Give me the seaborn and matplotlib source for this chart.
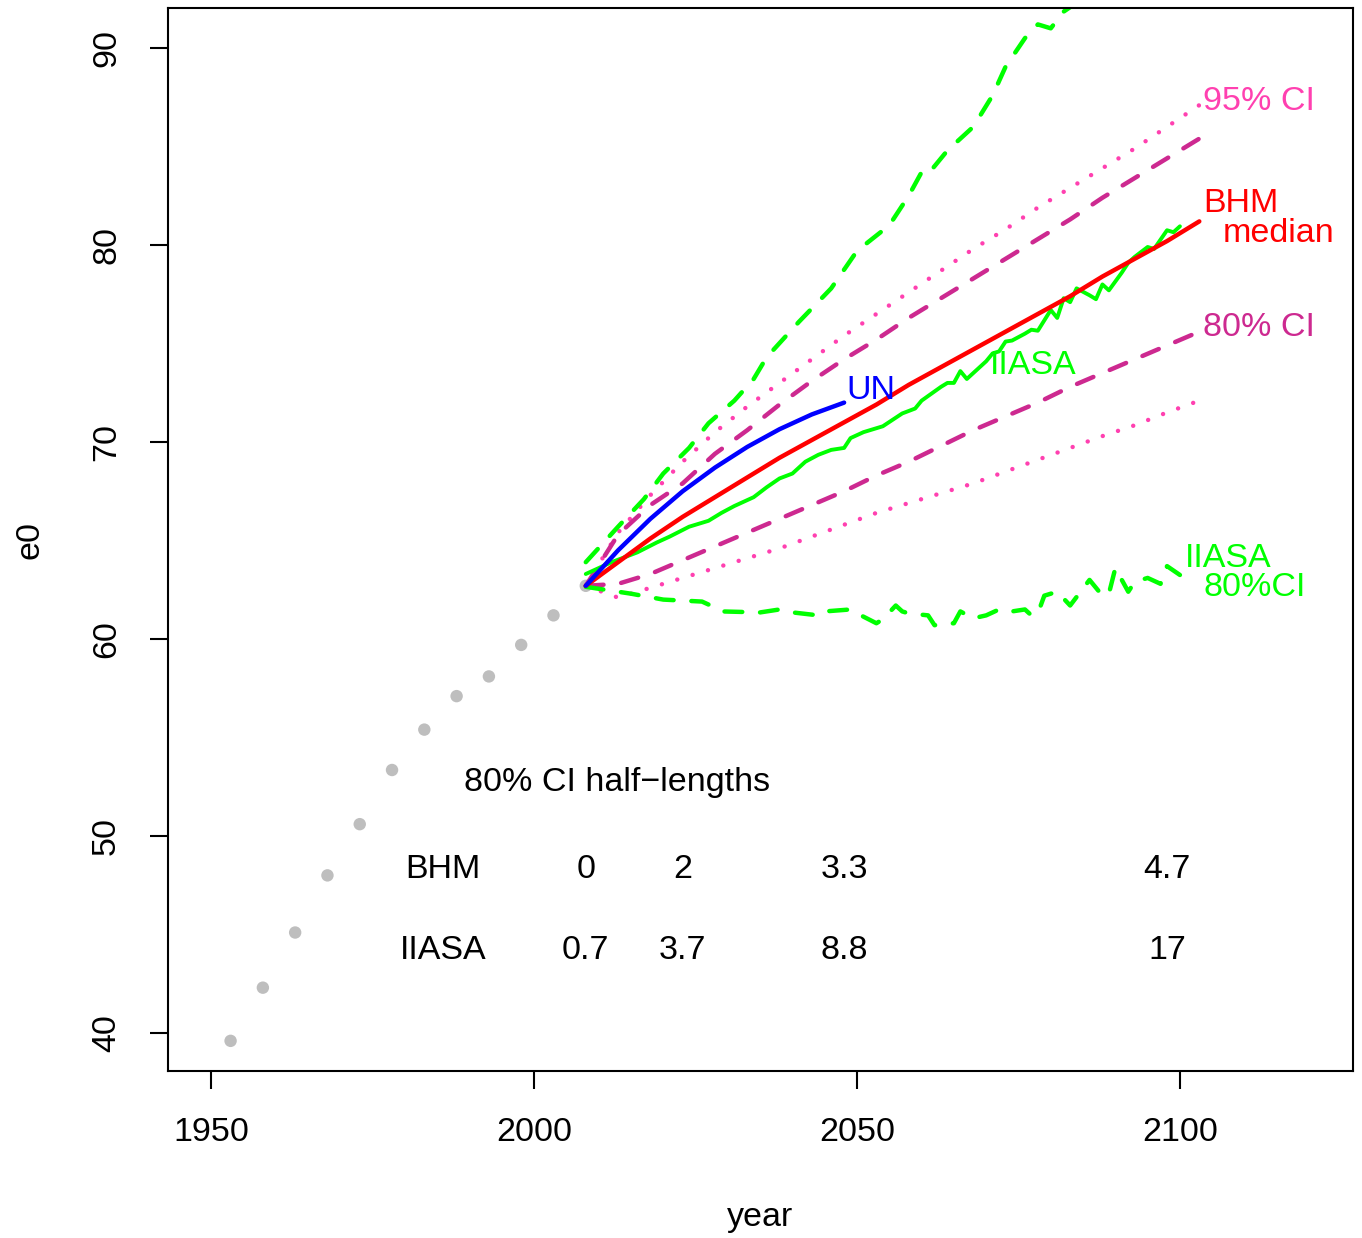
import matplotlib
matplotlib.use("Agg")
import matplotlib.pyplot as plt
import seaborn as sns

# observed e0 (grey dots)
obs_years = [1953, 1958, 1963, 1968, 1973, 1978, 1983, 1988, 1993, 1998, 2003, 2008]
obs_e0 = [39.6, 42.3, 45.1, 48.0, 50.6, 53.35, 55.4, 57.1, 58.1, 59.7, 61.2, 62.7]

# BHM projections (5-year steps)
bhm_years = [2008, 2013, 2018, 2023, 2028, 2033, 2038, 2043, 2048, 2053,
             2058, 2063, 2068, 2073, 2078, 2083, 2088, 2093, 2098, 2103]
bhm_median = [62.7, 63.9, 65.1, 66.2, 67.2, 68.2, 69.2, 70.1, 71.0, 71.9,
              72.9, 73.8, 74.7, 75.6, 76.5, 77.4, 78.4, 79.3, 80.2, 81.2]
bhm_up80 = [62.7, 65.3, 66.8, 67.9, 69.4, 70.6, 71.9, 73.1, 74.2, 75.2,
            76.3, 77.3, 78.3, 79.3, 80.3, 81.3, 82.4, 83.4, 84.4, 85.4]
bhm_lo80 = [62.7, 62.8, 63.3, 64.0, 64.7, 65.4, 66.1, 66.8, 67.5, 68.3,
            69.0, 69.8, 70.6, 71.3, 72.0, 72.8, 73.5, 74.2, 74.9, 75.6]
bhm_up95 = [62.7, 65.4, 67.3, 69.0, 70.5, 71.8, 73.0, 74.2, 75.4, 76.5,
            77.6, 78.7, 79.8, 80.8, 81.9, 82.9, 83.9, 84.9, 86.0, 87.1]
bhm_lo95 = [62.7, 62.1, 62.6, 63.1, 63.6, 64.1, 64.6, 65.2, 65.8, 66.4,
            66.9, 67.4, 67.9, 68.5, 69.1, 69.7, 70.3, 70.85, 71.5, 72.1]

# UN projection
un_years = [2008, 2013, 2018, 2023, 2028, 2033, 2038, 2043, 2048]
un_e0 = [62.7, 64.5, 66.1, 67.5, 68.7, 69.75, 70.65, 71.4, 72.0]

# IIASA median
iiasa_years = [2008, 2012, 2016, 2019, 2021, 2024, 2027, 2029, 2031, 2034,
               2036, 2038, 2040, 2042, 2044, 2046, 2048, 2049, 2051, 2054,
               2057, 2059, 2060, 2063, 2064, 2065, 2066, 2067, 2068, 2070,
               2071, 2072, 2073, 2074, 2076, 2077, 2078, 2080, 2081, 2082,
               2083, 2084, 2086, 2087, 2088, 2089, 2091, 2092, 2093, 2095,
               2096, 2098, 2099, 2100]
iiasa_med = [63.3, 63.9, 64.4, 64.9, 65.2, 65.7, 66.0, 66.4, 66.75, 67.2,
             67.7, 68.15, 68.4, 69.0, 69.35, 69.6, 69.7, 70.2, 70.5, 70.8,
             71.45, 71.7, 72.1, 72.8, 73.0, 73.0, 73.6, 73.2, 73.5, 74.1,
             74.5, 74.6, 75.1, 75.15, 75.5, 75.7, 75.65, 76.7, 76.3, 77.3,
             77.1, 77.8, 77.45, 77.25, 78.0, 77.7, 78.6, 79.1, 79.4, 79.9,
             79.8, 80.75, 80.65, 80.95]

# IIASA 80% interval
iiasa_up_years = [2008, 2013, 2017, 2020, 2024, 2027, 2031, 2034, 2036, 2041,
                  2046, 2050, 2055, 2058, 2060, 2061, 2063, 2064, 2068, 2071,
                  2073, 2076, 2078, 2080, 2082, 2084]
iiasa_up80 = [63.9, 65.7, 67.1, 68.4, 69.7, 70.95, 72.1, 73.2, 74.3, 76.1,
              77.8, 79.7, 81.0, 82.5, 83.7, 83.6, 84.4, 84.8, 86.0, 87.6,
              89.05, 90.5, 91.2, 91.0, 91.85, 92.3]
iiasa_lo_years = [2008, 2011, 2015, 2020, 2026, 2028, 2029, 2035, 2038, 2040,
                  2044, 2045, 2049, 2050, 2053, 2054, 2056, 2057, 2058, 2061,
                  2062, 2065, 2066, 2068, 2070, 2072, 2074, 2076, 2077, 2078,
                  2079, 2081, 2082, 2083, 2086, 2088, 2089, 2090, 2092, 2093,
                  2095, 2097, 2098, 2100]
iiasa_lo80 = [62.65, 62.5, 62.3, 62.0, 61.9, 61.6, 61.4, 61.35, 61.5, 61.35,
              61.2, 61.4, 61.5, 61.3, 60.8, 61.0, 61.7, 61.4, 61.3, 61.2,
              60.7, 60.8, 61.4, 61.05, 61.2, 61.5, 61.4, 61.5, 61.2, 61.3,
              62.2, 62.4, 62.05, 61.7, 63.0, 62.2, 62.3, 63.6, 62.4, 62.9,
              63.1, 62.8, 63.7, 63.25]

# table of 80% CI half-lengths
table_years = [2008, 2023, 2048, 2098]
bhm_half = ["0", "2", "3.3", "4.7"]
iiasa_half = ["0.7", "3.7", "8.8", "17"]

GREEN = "#00FF00"
DASHCOL = "#CD2990"
DOTCOL = "#FF40B0"

sns.set_style("white")
plt.rcParams["font.family"] = ["Liberation Sans", "DejaVu Sans"]
plt.rcParams["text.color"] = "black"
plt.rcParams["axes.labelcolor"] = "black"
plt.rcParams["xtick.color"] = "black"
plt.rcParams["ytick.color"] = "black"

fig = plt.figure(figsize=(13.62, 12.38), dpi=100)
ax = fig.add_axes([0.1233, 0.1349, 0.8701, 0.8586])

sns.scatterplot(x=obs_years, y=obs_e0, color="#BEBEBE", s=80, edgecolor="none", ax=ax)

def draw(x, y, color, style, lw=3.2):
    kw = dict(x=x, y=y, color=color, lw=lw, ax=ax, errorbar=None, estimator=None)
    line = sns.lineplot(**kw).lines[-1]
    if style == "dash":
        line.set_dashes((4.0, 4.0))
        line.set_dash_capstyle("round")
    elif style == "dot":
        line.set_dashes((0.01, 3.6))
        line.set_dash_capstyle("round")

draw(bhm_years, bhm_up95, DOTCOL, "dot")
draw(bhm_years, bhm_lo95, DOTCOL, "dot")
draw(bhm_years, bhm_up80, DASHCOL, "dash")
draw(bhm_years, bhm_lo80, DASHCOL, "dash")
draw(iiasa_up_years, iiasa_up80, GREEN, "dash")
draw(iiasa_lo_years, iiasa_lo80, GREEN, "dash")
draw(iiasa_years, iiasa_med, GREEN, "solid", lw=2.8)
draw(bhm_years, bhm_median, "#FF0000", "solid")
draw(un_years, un_e0, "#0000FF", "solid")

fs = 24.5
ax.text(2103.6, 87.3, "95% CI", color=DOTCOL, fontsize=fs, va="center")
ax.text(2103.6, 82.1, "BHM", color="#FF0000", fontsize=fs, va="center")
ax.text(2106.7, 80.6, "median", color="#FF0000", fontsize=fs, va="center")
ax.text(2103.6, 75.8, "80% CI", color=DASHCOL, fontsize=fs, va="center")
ax.text(2070.5, 73.9, "IIASA", color=GREEN, fontsize=fs, va="center")
ax.text(2048.4, 72.6, "UN", color="#0000FF", fontsize=fs, va="center")
ax.text(2100.8, 64.1, "IIASA", color=GREEN, fontsize=fs, va="center")
ax.text(2103.6, 62.6, "80%CI", color=GREEN, fontsize=fs, va="center")

ax.text(2012.9, 52.7, "80% CI half\u2212lengths", fontsize=fs, ha="center", va="center")
ax.text(1985.9, 48.3, "BHM", fontsize=fs, ha="center", va="center")
ax.text(1985.9, 44.2, "IIASA", fontsize=fs, ha="center", va="center")
for yr, b, i in zip(table_years, bhm_half, iiasa_half):
    ax.text(yr, 48.3, b, fontsize=fs, ha="center", va="center")
    ax.text(yr, 44.2, i, fontsize=fs, ha="center", va="center")

ax.set_xlim(1943.3, 2126.8)
ax.set_ylim(38.07, 92.03)
ax.set_xticks([1950, 2000, 2050, 2100])
ax.set_yticks([40, 50, 60, 70, 80, 90])
ax.tick_params(axis="both", direction="out", length=13, width=1.5,
               labelsize=fs, pad=20, left=True, bottom=True, color="black")
for lab in ax.get_yticklabels():
    lab.set_rotation(90)
    lab.set_va("center")
for sp in ax.spines.values():
    sp.set_color("black")
    sp.set_linewidth(1.5)

ax.set_xlabel("year", fontsize=fs)
ax.set_ylabel("e0", fontsize=fs)
ax.xaxis.set_label_coords(0.5, -0.138)
ax.xaxis.label.set_va("center")
ax.yaxis.set_label_coords(-0.1165, 0.4995)
ax.yaxis.label.set_va("center")

fig.savefig("out.png", dpi=100)
